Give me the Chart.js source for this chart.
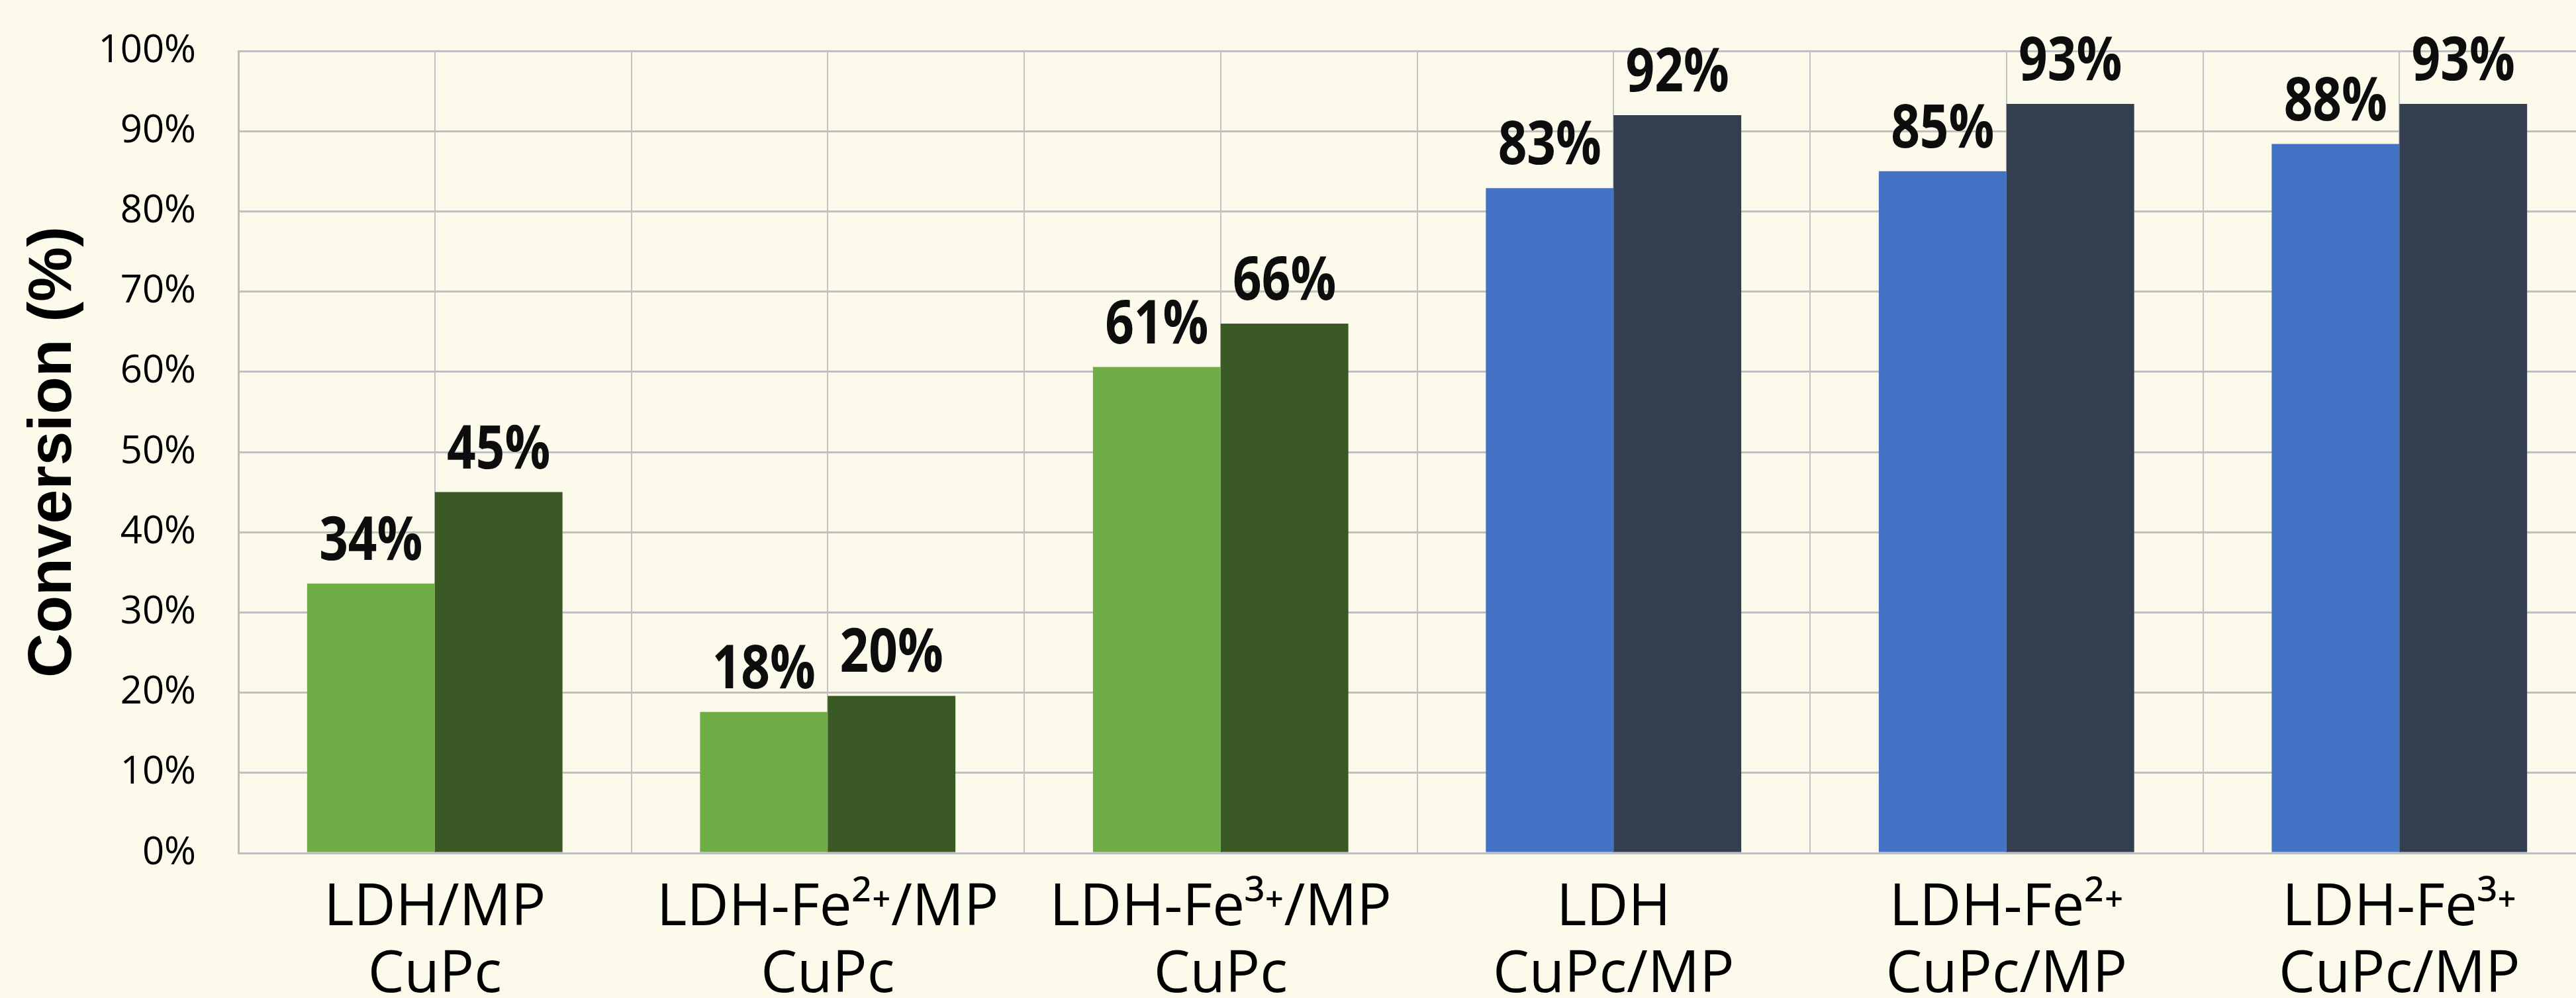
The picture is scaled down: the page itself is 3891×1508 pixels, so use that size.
<!DOCTYPE html>
<html>
<head>
<meta charset="utf-8">
<script src="https://cdn.jsdelivr.net/npm/chart.js@4.4.1/dist/chart.umd.min.js"></script>
<style>
  html, body { margin: 0; padding: 0; background: #FCFAEB; overflow: hidden; }
  #wrap { position: absolute; left: 0; top: 0; width: 3921px; height: 1508px; }
</style>
</head>
<body>
<div id="wrap"><canvas id="c"></canvas></div>
<script>
// ---- data ----
const categories = [
  ['LDH/MP', 'CuPc'],
  ['LDH-Fe²⁺/MP', 'CuPc'],
  ['LDH-Fe³⁺/MP', 'CuPc'],
  ['LDH', 'CuPc/MP'],
  ['LDH-Fe²⁺', 'CuPc/MP'],
  ['LDH-Fe³⁺', 'CuPc/MP']
];
const seriesFirst  = [33.6, 17.6, 60.6, 82.9, 85.0, 88.4];
const seriesSecond = [45.0, 19.6, 66.0, 92.0, 93.4, 93.4];
const colorsFirst  = ['#70AD47', '#70AD47', '#70AD47', '#4472C4', '#4472C4', '#4472C4'];
const colorsSecond = ['#3B5925', '#3B5925', '#3B5925', '#333F50', '#333F50', '#333F50'];
const yTicks = [0, 10, 20, 30, 40, 50, 60, 70, 80, 90, 100];
const yTitle = 'Conversion (%)';

const valueLabels = {
  id: 'valueLabels',
  afterDatasetsDraw(chart) {
    const ctx = chart.ctx;
    ctx.save();
    ctx.fillStyle = '#0D0D0D';
    ctx.font = 'bold 91px "Open Sans", "Noto Sans", sans-serif';
    ctx.textAlign = 'center';
    ctx.textBaseline = 'alphabetic';
    chart.data.datasets.forEach((ds, i) => {
      const meta = chart.getDatasetMeta(i);
      meta.data.forEach((el, j) => {
        const txt = Math.round(ds.data[j]) + '%';
        ctx.save();
        ctx.translate(el.x, el.y - 36);
        ctx.scale(0.84, 1);
        ctx.fillText(txt, 0, 0);
        ctx.restore();
      });
    });
    ctx.restore();
  }
};

new Chart(document.getElementById('c'), {
  type: 'bar',
  data: {
    labels: categories,
    datasets: [
      { label: 'A', data: seriesFirst, backgroundColor: colorsFirst, borderWidth: 0 },
      { label: 'B', data: seriesSecond, backgroundColor: colorsSecond, borderWidth: 0 }
    ]
  },
  options: {
    responsive: true,
    maintainAspectRatio: false,
    animation: false,
    devicePixelRatio: 1,
    layout: { padding: { top: 77, left: 26, right: 0, bottom: 0 } },
    plugins: { legend: { display: false }, tooltip: { enabled: false } },
    datasets: { bar: { categoryPercentage: 0.65, barPercentage: 1.0 } },
    scales: {
      x: {
        offset: true,
        grid: { offset: true, color: '#C3C3C3', lineWidth: 2, drawTicks: false },
        border: { display: true, color: '#BDBDBD', width: 3 },
        ticks: {
          padding: 33,
          maxRotation: 0,
          autoSkip: false,
          color: '#000000',
          font: { family: '"Open Sans", "Noto Sans", sans-serif', size: 87, lineHeight: 1.17 }
        },
        afterFit(s) { s.height = 219; }
      },
      x2: {
        type: 'category',
        labels: categories,
        position: 'top',
        offset: true,
        grid: { offset: false, color: '#C3C3C3', lineWidth: 2, drawTicks: false },
        border: { display: false },
        ticks: { display: false },
        afterFit(s) { s.height = 0; }
      },
      y: {
        min: 0,
        max: 100,
        afterBuildTicks(s) { s.ticks = yTicks.map(v => ({ value: v })); },
        grid: { color: '#C0C0C0', lineWidth: 3, drawTicks: false },
        border: { display: true, color: '#BDBDBD', width: 3 },
        ticks: {
          padding: 64,
          color: '#000000',
          font: { family: '"Open Sans", "Noto Sans", sans-serif', size: 58 },
          callback: v => v + '%'
        },
        title: {
          display: true,
          text: yTitle,
          color: '#000000',
          padding: { top: 0, bottom: 0 },
          font: { family: '"Liberation Sans", Arial, sans-serif', size: 93, weight: 'bold', lineHeight: 1.2 }
        },
        afterFit(s) { s.width = 334; s.paddingTop = 0; s.paddingBottom = 0; }
      }
    }
  },
  plugins: [valueLabels]
});
</script>
</body>
</html>
